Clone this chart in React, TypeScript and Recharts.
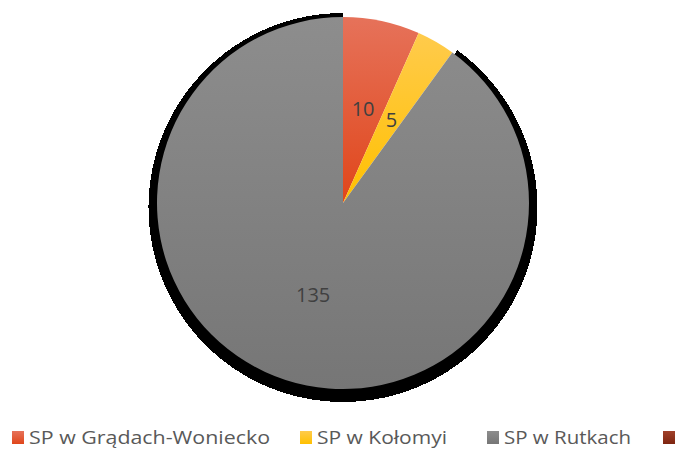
import React from "react";
import { PieChart, Pie, Cell, Legend } from "recharts";

const categories = ["SP w Grądach-Woniecko", "SP w Kołomyi", "SP w Rutkach", "SP w Gutach"];
const values = [10, 5, 135, 0];
const gradTop = ["#E6725A", "#FFCB4C", "#8D8D8D", "#A0402A"];
const gradBottom = ["#E0461A", "#FFC000", "#767676", "#7E2510"];
const shadowVisible = [false, false, true, false];

const data = categories.map((name, i) => ({ name, value: values[i] }));

const RADIAN = Math.PI / 180;

const renderLabel = (props: any) => {
  const { cx, cy, midAngle, outerRadius, value } = props;
  if (!value) return null;
  const r = outerRadius * 0.52;
  const x = cx + r * Math.cos(-midAngle * RADIAN);
  const y = cy + r * Math.sin(-midAngle * RADIAN);
  return (
    <text
      x={x}
      y={y}
      fill="#404040"
      fontSize={20}
      fontFamily="'Open Sans', sans-serif"
      textAnchor="middle"
      dominantBaseline="central"
    >
      {value}
    </text>
  );
};

const legendX = [12, 300, 487, 663];
const legendTextWidth = [241, 130, 127, 100];

const renderLegend = () => (
  <svg width={675} height={30} style={{ display: "block" }}>
    <defs>
      {categories.map((_, i) => (
        <linearGradient key={i} id={`lg${i}`} x1="0" y1="0" x2="0" y2="1">
          <stop offset="0%" stopColor={gradTop[i]} />
          <stop offset="100%" stopColor={gradBottom[i]} />
        </linearGradient>
      ))}
    </defs>
    {categories.map((name, i) => (
      <g key={name}>
        <rect x={legendX[i]} y={9} width={12} height={13} fill={`url(#lg${i})`} />
        {legendX[i] + 17 < 675 ? (
          <text
            x={legendX[i] + 17}
            y={22}
            fontSize={19}
            fill="#595959"
            fontFamily="'Open Sans', sans-serif"
            textLength={legendTextWidth[i]}
            lengthAdjust="spacingAndGlyphs"
          >
            {name}
          </text>
        ) : null}
      </g>
    ))}
  </svg>
);

export default function App() {
  return (
    <div
      style={{
        position: "absolute",
        left: 0,
        top: 0,
        width: 675,
        height: 452,
        overflow: "hidden",
        background: "#fff",
      }}
    >
      <PieChart width={675} height={452} margin={{ top: 0, right: 0, bottom: 0, left: 0 }}>
        <defs>
          {categories.map((_, i) => (
            <linearGradient key={i} id={`pg${i}`} x1="0" y1="0" x2="0" y2="1">
              <stop offset="0%" stopColor={gradTop[i]} />
              <stop offset="100%" stopColor={gradBottom[i]} />
            </linearGradient>
          ))}
        </defs>
        <Pie
          data={data}
          dataKey="value"
          nameKey="name"
          cx={343}
          cy={207.5}
          outerRadius={194.5}
          startAngle={90}
          endAngle={-270}
          stroke="none"
          isAnimationActive={false}
          legendType="none"
          shapeRendering="crispEdges"
        >
          {data.map((d, i) => (
            <Cell key={i} fill={shadowVisible[i] ? "#000000" : "transparent"} />
          ))}
        </Pie>
        <Pie
          data={data}
          dataKey="value"
          nameKey="name"
          cx={343}
          cy={203}
          outerRadius={186}
          startAngle={90}
          endAngle={-270}
          stroke="none"
          isAnimationActive={false}
          label={renderLabel}
          labelLine={false}
        >
          {data.map((d, i) => (
            <Cell key={i} fill={`url(#pg${i})`} />
          ))}
        </Pie>
        <Legend
          verticalAlign="bottom"
          align="left"
          content={renderLegend}
          wrapperStyle={{ left: 0, bottom: 0, width: 675 }}
        />
      </PieChart>
    </div>
  );
}
